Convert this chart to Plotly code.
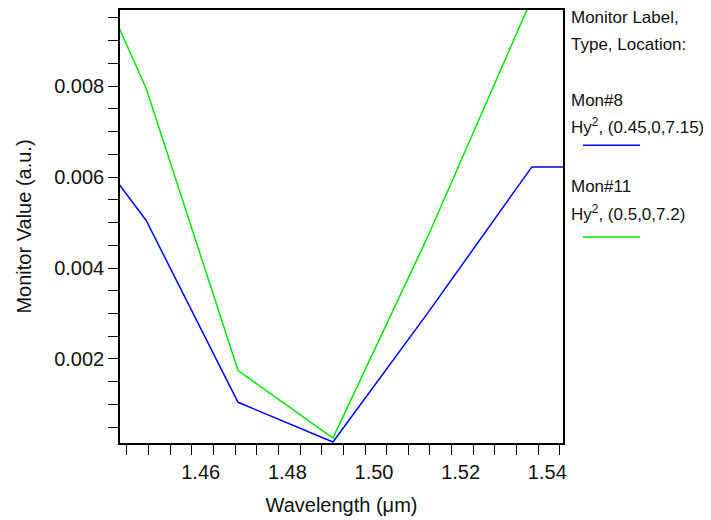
import plotly.graph_objects as go

# Data (wavelength in um, monitor value in a.u.)
wavelength = [1.4290, 1.4495, 1.4707, 1.4926, 1.5145, 1.5385, 1.5625]
mon8 = [0.00765, 0.005044, 0.001048, 0.000175, 0.003013, 0.006223, 0.006223]
mon11 = [0.0123, 0.007948, 0.001747, 0.000262, 0.004694, 0.00992, 0.0110]

x_tickvals = [1.46, 1.48, 1.50, 1.52, 1.54]
x_ticktext = ["1.46", "1.48", "1.50", "1.52", "1.54"]
y_tickvals = [0.002, 0.004, 0.006, 0.008]
y_ticktext = ["0.002", "0.004", "0.006", "0.008"]

FONT = "Arial, Liberation Sans, sans-serif"
TXT = "#111111"

# page body has an 8px margin, so the figure is drawn 8px smaller and offset
OFF = 8
W, H = 711 - OFF, 520 - OFF
L, R, T, B = 120, 563, 7, 443   # plot frame in window pixels

fig = go.Figure()
fig.add_trace(go.Scatter(x=wavelength, y=mon8, mode="lines",
                         line=dict(color="#0000ff", width=1.5), showlegend=False))
fig.add_trace(go.Scatter(x=wavelength, y=mon11, mode="lines",
                         line=dict(color="#00e600", width=1.5), showlegend=False))

fig.update_layout(
    width=W, height=H,
    margin=dict(l=L - OFF, r=711 - R, t=max(T - OFF, 0), b=520 - B),
    paper_bgcolor="white", plot_bgcolor="white",
    font=dict(family=FONT, color=TXT),
    showlegend=False,
)

fig.update_xaxes(
    range=[1.44345, 1.5457],
    showline=True, linecolor="black", linewidth=1.5, mirror=True,
    showgrid=False, zeroline=False,
    tickmode="array", tickvals=x_tickvals, ticktext=x_ticktext,
    ticks="outside", ticklen=10, tickwidth=1.2, tickcolor="black",
    ticklabelshift=9, ticklabelstandoff=0,
    tickfont=dict(size=20, family=FONT, color=TXT),
    minor=dict(dtick=0.005, tick0=1.445, ticks="outside", ticklen=10,
               tickwidth=1.2, tickcolor="black", showgrid=False),
    title=dict(text="Wavelength (\u03bcm)", font=dict(size=20, family=FONT, color=TXT),
               standoff=16),
)

fig.update_yaxes(
    range=[0.000153, 0.009672],
    showline=True, linecolor="black", linewidth=1.5, mirror=True,
    showgrid=False, zeroline=False,
    tickmode="array", tickvals=y_tickvals, ticktext=y_ticktext,
    ticks="outside", ticklen=10, tickwidth=1.2, tickcolor="black",
    tickfont=dict(size=20, family=FONT, color=TXT),
    minor=dict(dtick=0.0005, tick0=0, ticks="outside", ticklen=10,
               tickwidth=1.2, tickcolor="black", showgrid=False),
    title=dict(text="Monitor Value (a.u.)", font=dict(size=20, family=FONT, color=TXT),
               standoff=17),
)

# Right-side legend block (Lumerical style)
def px_x(px):
    return (px - L) / (R - L)

def px_y(py):
    return (B - py) / (B - max(T, OFF))

legend_texts = [
    ("Monitor Label,", 16),
    ("Type, Location:", 43),
    ("Mon#8", 99),
    ("Hy<sup>2</sup>, (0.45,0,7.15)", 125),
    ("Mon#11", 185),
    ("Hy<sup>2</sup>, (0.5,0,7.2)", 212),
]
for txt, yc in legend_texts:
    fig.add_annotation(text=txt, xref="paper", yref="paper",
                       x=px_x(569), y=px_y(yc), xanchor="left", yanchor="middle",
                       showarrow=False, font=dict(size=17, family=FONT, color=TXT))

for color, yl in [("#0000ff", 144), ("#00e600", 236)]:
    fig.add_shape(type="line", xref="paper", yref="paper",
                  x0=px_x(583), x1=px_x(640), y0=px_y(yl), y1=px_y(yl),
                  line=dict(color=color, width=1.5))

fig.write_html("out.html")
